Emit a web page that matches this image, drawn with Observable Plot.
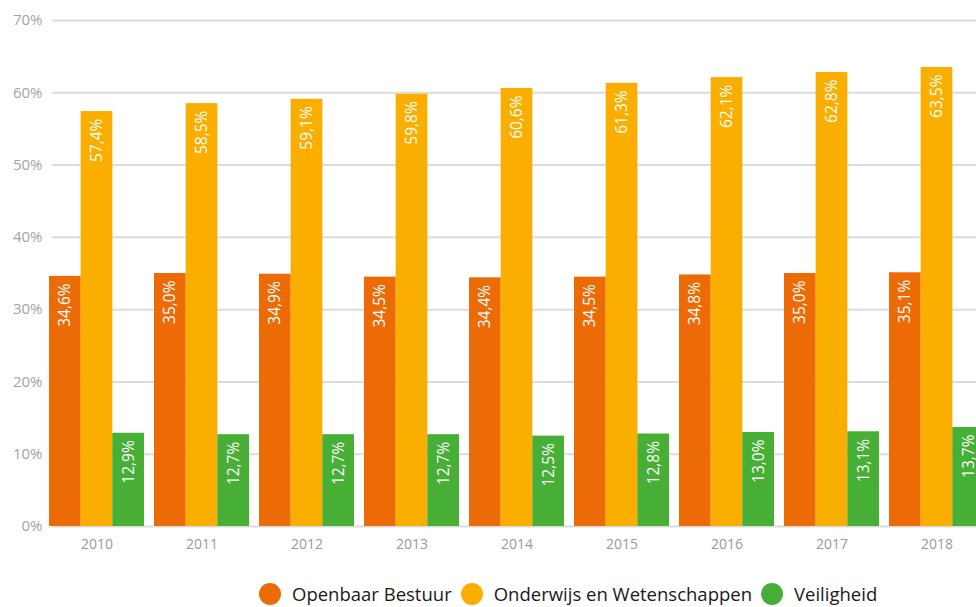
<!DOCTYPE html>
<html>
<head>
<meta charset="utf-8">
<script src="https://cdn.jsdelivr.net/npm/d3@7"></script>
<script src="https://cdn.jsdelivr.net/npm/@observablehq/plot@0.6"></script>
<style>
  html, body { margin: 0; padding: 0; background: #fff; overflow: hidden; }
  #wrap { width: 976px; height: 607px; overflow: hidden; position: relative; font-family: "Open Sans", sans-serif; }
  #chart svg { max-width: none !important; }
  #legend { position: absolute; left: 259px; top: 581px; display: flex; align-items: center; font-size: 18.5px; color: #1a1a1a; white-space: nowrap; }
  .item { display: flex; align-items: center; margin-right: 9px; }
  .dot { width: 22px; height: 22px; border-radius: 50%; margin-right: 11px; }
</style>
</head>
<body>
<div id="wrap"><div id="chart"></div><div id="legend"></div></div>
<script>
const years = ["2010","2011","2012","2013","2014","2015","2016","2017","2018"];
const seriesNames = ["Openbaar Bestuur", "Onderwijs en Wetenschappen", "Veiligheid"];
const openbaarBestuur = [34.6, 35.0, 34.9, 34.5, 34.4, 34.5, 34.8, 35.0, 35.1];
const onderwijs = [57.4, 58.5, 59.1, 59.8, 60.6, 61.3, 62.1, 62.8, 63.5];
const veiligheid = [12.9, 12.7, 12.7, 12.7, 12.5, 12.8, 13.0, 13.1, 13.7];
const yTicks = [0, 10, 20, 30, 40, 50, 60, 70];
const colors = ["#EC6B07", "#F9AE00", "#47AE36"];

const seriesValues = [openbaarBestuur, onderwijs, veiligheid];

const rangeX = [42, 990];
const padInner = 0.0985, padOuter = 0.05;
const step = (rangeX[1] - rangeX[0]) / (years.length - padInner + 2 * padOuter);
const bw = step * (1 - padInner);
const third = bw / 3;

const fmt = v => v.toFixed(1).replace(".", ",") + "%";

const marks = [
  Plot.ruleY(yTicks, {stroke: "#dcdcdc", strokeWidth: 2}),
  Plot.axisY({ticks: yTicks, tickSize: 0, tickPadding: 10, tickFormat: d => d + "%", fontSize: 15, fill: "#a3a3a3", label: null}),
  Plot.axisX({tickSize: 0, tickPadding: 13, fontSize: 14, fill: "#9a9a9a", label: null})
];

seriesValues.forEach((vals, i) => {
  const data = years.map((y, j) => ({year: y, value: vals[j]}));
  marks.push(Plot.barY(data, {
    x: "year", y: "value", fill: colors[i],
    insetLeft: i * third, insetRight: (2 - i) * third
  }));
  marks.push(Plot.text(data, {
    x: "year", y: "value", text: d => fmt(d.value),
    rotate: -90, textAnchor: "end", lineAnchor: "middle",
    dx: (i - 1) * third, dy: 7, fill: "#fff", fontSize: 15.5
  }));
});

const chart = Plot.plot({
  width: 991,
  height: 565,
  marginLeft: 52,
  marginRight: 0,
  marginTop: 20,
  marginBottom: 39,
  style: {fontFamily: "'Open Sans', sans-serif", background: "#fff", overflow: "visible", maxWidth: "none"},
  x: {type: "band", domain: years, range: rangeX, paddingInner: padInner, paddingOuter: padOuter, label: null},
  y: {domain: [0, 70], label: null},
  marks
});
document.getElementById("chart").appendChild(chart);

const legend = document.getElementById("legend");
seriesNames.forEach((name, i) => {
  const item = document.createElement("div");
  item.className = "item";
  const dot = document.createElement("span");
  dot.className = "dot";
  dot.style.background = colors[i];
  const label = document.createElement("span");
  label.textContent = name;
  item.appendChild(dot);
  item.appendChild(label);
  legend.appendChild(item);
});
</script>
</body>
</html>
